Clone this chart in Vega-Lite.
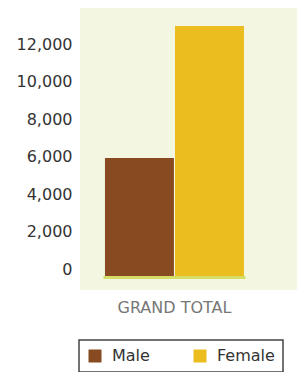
{
  "$schema": "https://vega.github.io/schema/vega-lite/v6.json",
  "width": 217,
  "height": 282,
  "autosize": {"type": "none"},
  "padding": {"left": 80, "top": 8, "right": 4, "bottom": 82},
  "background": "white",
  "config": {
    "view": {"fill": "#f3f6e0", "stroke": null},
    "font": "DejaVu Sans",
    "legend": {"strokeWidth": 1.5}
  },
  "data": {
    "values": [
      {"category": "GRAND TOTAL", "gender": "Male", "count": 5920},
      {"category": "GRAND TOTAL", "gender": "Female", "count": 12960}
    ]
  },
  "layer": [
    {
      "mark": {"type": "bar"},
      "encoding": {
        "x": {
          "field": "category",
          "type": "nominal",
          "title": null,
          "scale": {"paddingInner": 0, "paddingOuter": 0.2806, "align": 0.32},
          "axis": {
            "domain": false,
            "ticks": false,
            "labelAngle": 0,
            "labelPadding": 9,
            "labelFontSize": 16,
            "labelColor": "#777777"
          }
        },
        "xOffset": {
          "field": "gender",
          "type": "nominal",
          "sort": ["Male", "Female"],
          "scale": {"paddingInner": 0.015}
        },
        "y": {
          "field": "count",
          "type": "quantitative",
          "title": null,
          "scale": {"domain": [-1120, 13920], "nice": false, "zero": false},
          "axis": {
            "values": [0, 2000, 4000, 6000, 8000, 10000, 12000],
            "format": ",.0f",
            "domain": false,
            "ticks": false,
            "grid": false,
            "labelPadding": 8,
            "labelFontSize": 16,
            "labelColor": "#333333"
          }
        },
        "y2": {"datum": -373},
        "color": {
          "field": "gender",
          "type": "nominal",
          "scale": {"domain": ["Male", "Female"], "range": ["#874a21", "#ebbd1f"]},
          "legend": {
            "orient": "none",
            "legendX": -1,
            "legendY": 332,
            "direction": "horizontal",
            "title": null,
            "symbolType": "square",
            "symbolSize": 169,
            "symbolStrokeWidth": 0,
            "labelFontSize": 16,
            "labelColor": "#333333",
            "labelOffset": 9,
            "columnPadding": 42,
            "padding": 8,
            "strokeColor": "#444444",
            "fillColor": "white",
            "labelExpr": "datum.label == 'Female' ? 'Female\u00a0\u00a0\u00a0' : datum.label"
          }
        }
      }
    },
    {
      "transform": [{"filter": "datum.gender == 'Male'"}],
      "mark": {"type": "rule", "color": "#d5dd66", "strokeWidth": 3, "strokeCap": "square"},
      "encoding": {
        "x": {"field": "category", "type": "nominal", "bandPosition": 0},
        "x2": {"field": "category", "bandPosition": 1},
        "y": {"datum": -453}
      }
    }
  ]
}
